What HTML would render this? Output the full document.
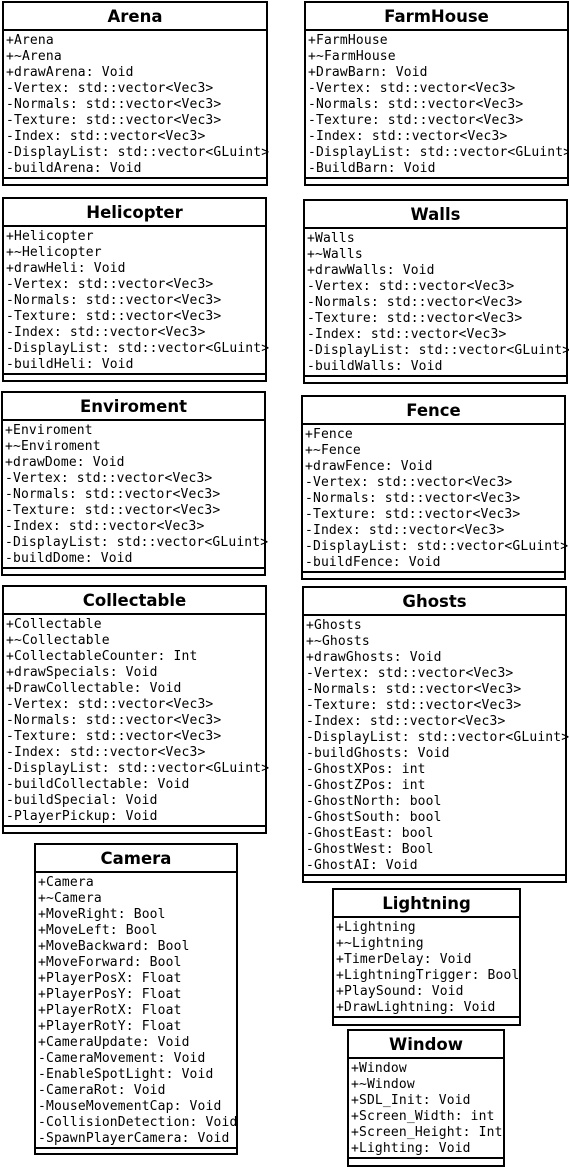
<!DOCTYPE html>
<html><head><meta charset="utf-8"><style>
body{margin:0;width:569px;height:1167px;background:#fff;position:relative;overflow:hidden}
.b{position:absolute;border:2px solid #000;box-sizing:border-box;background:#fff}
.h{height:26px;border-bottom:2px solid #000;font:bold 16.5px "DejaVu Sans","Liberation Sans",sans-serif;text-align:center;line-height:27px}
.r{padding:2px 0 0 2px;height:auto;font:13px "DejaVu Sans Mono","Liberation Mono",monospace;letter-spacing:0.15px;line-height:16px;white-space:pre;border-bottom:2px solid #000;margin-bottom:-1px}
</style></head><body>

<div class="b" style="left:2px;top:1px;width:266px;height:185px"><div class="h">Arena</div><div class="r">+Arena
+~Arena
+drawArena: Void
-Vertex: std::vector&lt;Vec3&gt;
-Normals: std::vector&lt;Vec3&gt;
-Texture: std::vector&lt;Vec3&gt;
-Index: std::vector&lt;Vec3&gt;
-DisplayList: std::vector&lt;GLuint&gt;
-buildArena: Void</div></div>

<div class="b" style="left:304px;top:1px;width:265px;height:185px"><div class="h">FarmHouse</div><div class="r">+FarmHouse
+~FarmHouse
+DrawBarn: Void
-Vertex: std::vector&lt;Vec3&gt;
-Normals: std::vector&lt;Vec3&gt;
-Texture: std::vector&lt;Vec3&gt;
-Index: std::vector&lt;Vec3&gt;
-DisplayList: std::vector&lt;GLuint&gt;
-BuildBarn: Void</div></div>

<div class="b" style="left:2px;top:197px;width:265px;height:185px"><div class="h">Helicopter</div><div class="r">+Helicopter
+~Helicopter
+drawHeli: Void
-Vertex: std::vector&lt;Vec3&gt;
-Normals: std::vector&lt;Vec3&gt;
-Texture: std::vector&lt;Vec3&gt;
-Index: std::vector&lt;Vec3&gt;
-DisplayList: std::vector&lt;GLuint&gt;
-buildHeli: Void</div></div>

<div class="b" style="left:303px;top:199px;width:265px;height:185px"><div class="h">Walls</div><div class="r">+Walls
+~Walls
+drawWalls: Void
-Vertex: std::vector&lt;Vec3&gt;
-Normals: std::vector&lt;Vec3&gt;
-Texture: std::vector&lt;Vec3&gt;
-Index: std::vector&lt;Vec3&gt;
-DisplayList: std::vector&lt;GLuint&gt;
-buildWalls: Void</div></div>

<div class="b" style="left:1px;top:391px;width:265px;height:185px"><div class="h">Enviroment</div><div class="r">+Enviroment
+~Enviroment
+drawDome: Void
-Vertex: std::vector&lt;Vec3&gt;
-Normals: std::vector&lt;Vec3&gt;
-Texture: std::vector&lt;Vec3&gt;
-Index: std::vector&lt;Vec3&gt;
-DisplayList: std::vector&lt;GLuint&gt;
-buildDome: Void</div></div>

<div class="b" style="left:301px;top:395px;width:265px;height:185px"><div class="h">Fence</div><div class="r">+Fence
+~Fence
+drawFence: Void
-Vertex: std::vector&lt;Vec3&gt;
-Normals: std::vector&lt;Vec3&gt;
-Texture: std::vector&lt;Vec3&gt;
-Index: std::vector&lt;Vec3&gt;
-DisplayList: std::vector&lt;GLuint&gt;
-buildFence: Void</div></div>

<div class="b" style="left:2px;top:585px;width:265px;height:249px"><div class="h">Collectable</div><div class="r">+Collectable
+~Collectable
+CollectableCounter: Int
+drawSpecials: Void
+DrawCollectable: Void
-Vertex: std::vector&lt;Vec3&gt;
-Normals: std::vector&lt;Vec3&gt;
-Texture: std::vector&lt;Vec3&gt;
-Index: std::vector&lt;Vec3&gt;
-DisplayList: std::vector&lt;GLuint&gt;
-buildCollectable: Void
-buildSpecial: Void
-PlayerPickup: Void</div></div>

<div class="b" style="left:302px;top:586px;width:265px;height:297px"><div class="h">Ghosts</div><div class="r">+Ghosts
+~Ghosts
+drawGhosts: Void
-Vertex: std::vector&lt;Vec3&gt;
-Normals: std::vector&lt;Vec3&gt;
-Texture: std::vector&lt;Vec3&gt;
-Index: std::vector&lt;Vec3&gt;
-DisplayList: std::vector&lt;GLuint&gt;
-buildGhosts: Void
-GhostXPos: int
-GhostZPos: int
-GhostNorth: bool
-GhostSouth: bool
-GhostEast: bool
-GhostWest: Bool
-GhostAI: Void</div></div>

<div class="b" style="left:34px;top:843px;width:204px;height:312px"><div class="h">Camera</div><div class="r">+Camera
+~Camera
+MoveRight: Bool
+MoveLeft: Bool
+MoveBackward: Bool
+MoveForward: Bool
+PlayerPosX: Float
+PlayerPosY: Float
+PlayerRotX: Float
+PlayerRotY: Float
+CameraUpdate: Void
-CameraMovement: Void
-EnableSpotLight: Void
-CameraRot: Void
-MouseMovementCap: Void
-CollisionDetection: Void
-SpawnPlayerCamera: Void</div></div>

<div class="b" style="left:332px;top:888px;width:189px;height:138px"><div class="h">Lightning</div><div class="r">+Lightning
+~Lightning
+TimerDelay: Void
+LightningTrigger: Bool
+PlaySound: Void
+DrawLightning: Void</div></div>

<div class="b" style="left:347px;top:1029px;width:158px;height:138px"><div class="h">Window</div><div class="r">+Window
+~Window
+SDL_Init: Void
+Screen_Width: int
+Screen_Height: Int
+Lighting: Void</div></div>

</body></html>
